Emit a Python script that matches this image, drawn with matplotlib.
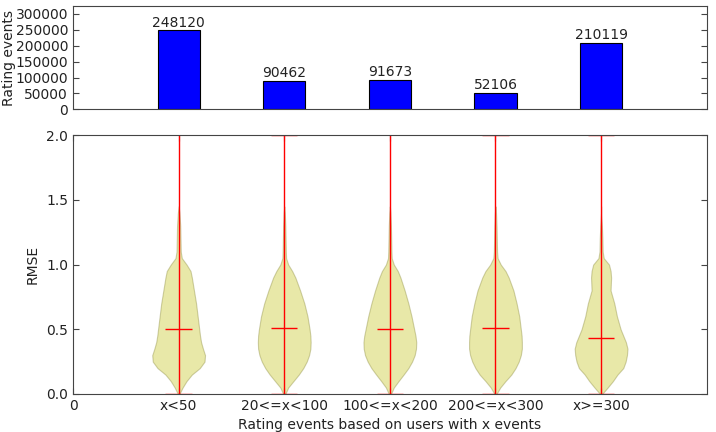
import numpy as np
import matplotlib
matplotlib.use("Agg")
import matplotlib.pyplot as plt

# counts per user group
groups = ["x<50", "20<=x<100", "100<=x<200", "200<=x<300", "x>=300"]
counts = [248120, 90462, 91673, 52106, 210119]

# RMSE distributions (relative density at each rmse level)
rmse_levels = [0.0, 0.05, 0.1, 0.15, 0.2, 0.25, 0.3, 0.35, 0.4, 0.45, 0.5, 0.6,
               0.7, 0.8, 0.9, 0.95, 1.0, 1.05, 1.1, 1.2, 1.3, 1.4, 1.45]
dens_lt50 = [0.03, 0.15, 0.3, 0.5, 0.8, 0.98, 1.0, 0.92, 0.85, 0.81, 0.78, 0.72,
             0.66, 0.58, 0.5, 0.45, 0.3, 0.12, 0.08, 0.07, 0.06, 0.03, 0.0]
dens_20_100 = [0.04, 0.15, 0.35, 0.55, 0.72, 0.85, 0.94, 0.99, 1.0, 0.99, 0.96, 0.88,
               0.76, 0.6, 0.42, 0.3, 0.15, 0.07, 0.06, 0.05, 0.04, 0.02, 0.0]
dens_100_200 = [0.04, 0.15, 0.33, 0.52, 0.7, 0.84, 0.94, 0.99, 1.0, 0.97, 0.92, 0.82,
                0.7, 0.56, 0.4, 0.3, 0.15, 0.07, 0.06, 0.05, 0.04, 0.02, 0.0]
dens_200_300 = [0.04, 0.18, 0.38, 0.6, 0.76, 0.88, 0.96, 1.0, 1.0, 0.99, 0.96, 0.9,
                0.8, 0.68, 0.5, 0.38, 0.2, 0.08, 0.06, 0.05, 0.04, 0.02, 0.0]
dens_gt300 = [0.04, 0.25, 0.45, 0.62, 0.84, 0.93, 0.98, 1.0, 0.94, 0.84, 0.74, 0.6,
              0.5, 0.36, 0.38, 0.36, 0.3, 0.1, 0.06, 0.05, 0.03, 0.0, 0.0]
rmse_mean = [0.50, 0.51, 0.50, 0.51, 0.43]
rmse_min = [0.0, 0.0, 0.0, 0.0, 0.0]
rmse_max = [2.5, 2.0, 2.5, 2.0, 2.0]

densities = [dens_lt50, dens_20_100, dens_100_200, dens_200_300, dens_gt300]
pos = np.arange(1, len(groups) + 1)
txt = "#222222"
edge = "#444444"

fig = plt.figure(figsize=(7.16, 4.32), dpi=100)
ax1 = fig.add_axes([0.102, 0.747, 0.885, 0.239])
ax2 = fig.add_axes([0.102, 0.088, 0.885, 0.599])

# top: bar chart of counts
bars = ax1.bar(pos, counts, width=0.4, color="blue", edgecolor="black", linewidth=0.8)
for x, c in zip(pos, counts):
    ax1.text(x, c + 3000, str(c), ha="center", va="bottom", fontsize=10, color=txt)
ax1.set_xlim(0, 6)
ax1.set_ylim(0, 325000)
ax1.set_yticks(np.arange(0, 300001, 50000))
ax1.set_xticks([])
ax1.set_ylabel("Rating events", fontsize=10, color=txt)
ax1.yaxis.set_label_coords(-0.09, 0.5)

# bottom: violins
stats = []
for d, m, lo, hi in zip(densities, rmse_mean, rmse_min, rmse_max):
    stats.append({"coords": np.array(rmse_levels), "vals": np.array(d),
                  "mean": m, "median": m, "min": lo, "max": hi})
parts = ax2.violin(stats, positions=pos, widths=0.5, showmeans=True, showextrema=True)
for b in parts["bodies"]:
    b.set_facecolor((0.78, 0.78, 0.15))
    b.set_edgecolor((0.55, 0.55, 0.25))
    b.set_alpha(0.4)
    b.set_linewidth(0.8)
for k in ["cmeans", "cmins", "cmaxes", "cbars"]:
    parts[k].set_color("red")
    parts[k].set_linewidth(1.0)
ax2.set_xlim(0, 6)
ax2.set_ylim(0, 2.0)
ax2.set_yticks([0.0, 0.5, 1.0, 1.5, 2.0])
ax2.set_xticks(range(0, 6))
ax2.set_xticklabels(["0"] + groups)
ax2.set_ylabel("RMSE", fontsize=10, color=txt)
ax2.yaxis.set_label_coords(-0.052, 0.5)
ax2.set_xlabel("Rating events based on users with x events", fontsize=10, color=txt, labelpad=4)

for ax in (ax1, ax2):
    ax.tick_params(direction="in", right=True, top=True, labelsize=10,
                   labelcolor=txt, color=edge, length=4)
    for s in ax.spines.values():
        s.set_color(edge)
ax1.tick_params(axis="x", top=False, bottom=False)

fig.savefig("out.png", dpi=100)
